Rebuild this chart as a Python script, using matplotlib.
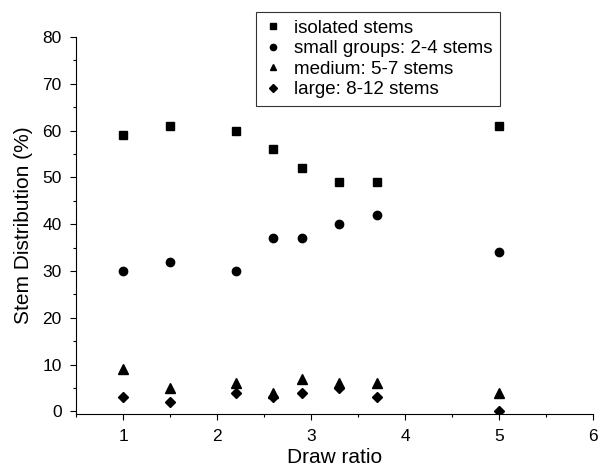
import matplotlib.pyplot as plt
from matplotlib.ticker import MultipleLocator

plt.rcParams['font.family'] = ['Liberation Sans', 'DejaVu Sans']

# draw ratio
draw_ratio = [1, 1.5, 2.2, 2.6, 2.9, 3.3, 3.7, 5]

# stem distribution (%)
isolated = [59, 61, 60, 56, 52, 49, 49, 61]
small_groups = [30, 32, 30, 37, 37, 40, 42, 34]
medium = [9, 5, 6, 4, 7, 6, 6, 4]
large = [3, 2, 4, 3, 4, 5, 3, 0]

labels = ["isolated stems", "small groups: 2-4 stems",
          "medium: 5-7 stems", "large: 8-12 stems"]

fig = plt.figure(figsize=(6, 4.75), dpi=100)
ax = fig.add_axes([0.127, 0.128, 0.861, 0.794])

ax.plot(draw_ratio, isolated, 's', color='black', markersize=5.5, label=labels[0])
ax.plot(draw_ratio, small_groups, 'o', color='black', markersize=6, label=labels[1])
ax.plot(draw_ratio, medium, '^', color='black', markersize=6.5, label=labels[2])
ax.plot(draw_ratio, large, 'D', color='black', markersize=5, label=labels[3])

ax.set_xlim(0.5, 6.0)
ax.set_ylim(-0.6, 80)
ax.xaxis.set_minor_locator(MultipleLocator(0.5))
ax.yaxis.set_minor_locator(MultipleLocator(5))
ax.set_yticks(range(0, 81, 10))
ax.set_xticks(range(1, 7))

for s in ['top', 'right']:
    ax.spines[s].set_visible(False)
ax.spines['left'].set_linewidth(0.8)
ax.spines['bottom'].set_linewidth(0.8)
ax.tick_params(which='major', direction='out', length=4.5, width=0.8, labelsize=12.5)
ax.tick_params(axis='y', which='major', pad=6)
ax.tick_params(axis='x', which='major', pad=6)
ax.tick_params(which='minor', direction='out', length=2.5, width=0.8)

ax.set_xlabel("Draw ratio", fontsize=15, labelpad=3)
ax.set_ylabel("Stem Distribution (%)", fontsize=15, labelpad=7)

leg = ax.legend(loc='upper left', bbox_to_anchor=(256 / 600, 1 - 12 / 475),
                bbox_transform=fig.transFigure, fontsize=13.5, frameon=True,
                fancybox=False, edgecolor='black', markerscale=0.75,
                handlelength=1.0, handletextpad=0.6, labelspacing=0.18,
                borderpad=0.4, borderaxespad=0)
leg.get_frame().set_linewidth(0.8)

fig.savefig("out.png", dpi=100)
